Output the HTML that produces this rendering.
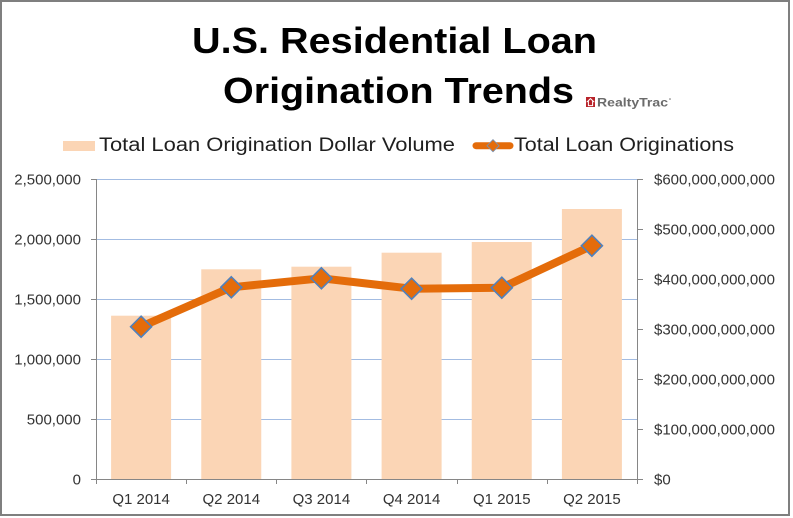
<!DOCTYPE html>
<html>
<head>
<meta charset="utf-8">
<style>
  html, body { margin: 0; padding: 0; background: #ffffff; }
  body { width: 793px; height: 518px; overflow: hidden; }
  svg { display: block; }
  text { font-family: "Liberation Sans", Arial, sans-serif; }
</style>
</head>
<body>
<svg width="793" height="518" viewBox="0 0 793 518" xmlns="http://www.w3.org/2000/svg">
  <rect x="0" y="0" width="793" height="518" fill="#ffffff"/>
  <!-- outer border -->
  <rect x="1" y="1" width="788" height="514" fill="#ffffff" stroke="#7f7f7f" stroke-width="2"/>

  <!-- Title -->
  <text x="192" y="53" font-size="36" font-weight="bold" fill="#000" textLength="405" lengthAdjust="spacingAndGlyphs">U.S. Residential Loan</text>
  <text x="223" y="103" font-size="36" font-weight="bold" fill="#000" textLength="351" lengthAdjust="spacingAndGlyphs">Origination Trends</text>

  <!-- RealtyTrac logo -->
  <rect x="586" y="97" width="9" height="10" fill="#b8232a"/>
  <path d="M590.5 98.6 L593.6 101.6 L592.6 101.6 L592.6 105.6 L588.4 105.6 L588.4 101.6 L587.4 101.6 Z" fill="none" stroke="#ffffff" stroke-width="1"/>
  <text x="597" y="106.5" font-size="12" font-weight="bold" fill="#6b6b6b" textLength="71" lengthAdjust="spacingAndGlyphs">RealtyTrac</text>
  <circle cx="670" cy="99" r="0.8" fill="#6b6b6b"/>

  <!-- Legend -->
  <rect x="63" y="141" width="32" height="10" fill="#fbd5b5"/>
  <text x="99" y="151" font-size="19" fill="#1f1f1f" textLength="356" lengthAdjust="spacingAndGlyphs">Total Loan Origination Dollar Volume</text>
  <line x1="476" y1="145.7" x2="510" y2="145.7" stroke="#e46c0a" stroke-width="7" stroke-linecap="round"/>
  <path d="M493 139.7 L499 145.7 L493 151.7 L487 145.7 Z" fill="#e46c0a" stroke="#7f8fa8" stroke-width="1"/>
  <text x="514" y="151" font-size="19" fill="#1f1f1f" textLength="220" lengthAdjust="spacingAndGlyphs">Total Loan Originations</text>

  <!-- Gridlines -->
  <g stroke="#a3bce2" stroke-width="1">
    <line x1="96" y1="179.5" x2="637" y2="179.5"/>
    <line x1="96" y1="239.5" x2="637" y2="239.5"/>
    <line x1="96" y1="299.5" x2="637" y2="299.5"/>
    <line x1="96" y1="359.5" x2="637" y2="359.5"/>
    <line x1="96" y1="419.5" x2="637" y2="419.5"/>
  </g>

  <!-- Bars -->
  <g fill="#fbd5b5">
    <rect x="111.1" y="315.7" width="60" height="163.3"/>
    <rect x="201.25" y="269.3" width="60" height="209.7"/>
    <rect x="291.4" y="266.7" width="60" height="212.3"/>
    <rect x="381.6" y="252.7" width="60" height="226.3"/>
    <rect x="471.75" y="242" width="60" height="237"/>
    <rect x="561.9" y="209" width="60" height="270"/>
  </g>

  <!-- Axes -->
  <g stroke="#868686" stroke-width="1">
    <line x1="96.5" y1="179" x2="96.5" y2="479"/>
    <line x1="637.5" y1="179" x2="637.5" y2="479"/>
    <line x1="91" y1="479.5" x2="643" y2="479.5"/>
    <!-- left ticks -->
    <line x1="91" y1="179.5" x2="96" y2="179.5"/>
    <line x1="91" y1="239.5" x2="96" y2="239.5"/>
    <line x1="91" y1="299.5" x2="96" y2="299.5"/>
    <line x1="91" y1="359.5" x2="96" y2="359.5"/>
    <line x1="91" y1="419.5" x2="96" y2="419.5"/>
    <!-- right ticks -->
    <line x1="637" y1="179.5" x2="643" y2="179.5"/>
    <line x1="637" y1="229.5" x2="643" y2="229.5"/>
    <line x1="637" y1="279.5" x2="643" y2="279.5"/>
    <line x1="637" y1="329.5" x2="643" y2="329.5"/>
    <line x1="637" y1="379.5" x2="643" y2="379.5"/>
    <line x1="637" y1="429.5" x2="643" y2="429.5"/>
    <!-- x ticks -->
    <line x1="96.5" y1="479" x2="96.5" y2="484"/>
    <line x1="186.5" y1="479" x2="186.5" y2="484"/>
    <line x1="276.5" y1="479" x2="276.5" y2="484"/>
    <line x1="366.5" y1="479" x2="366.5" y2="484"/>
    <line x1="457.5" y1="479" x2="457.5" y2="484"/>
    <line x1="547.5" y1="479" x2="547.5" y2="484"/>
    <line x1="637.5" y1="479" x2="637.5" y2="484"/>
  </g>

  <!-- Line series -->
  <polyline points="141.1,326.7 231.3,287.3 321.4,278.3 411.6,288.7 501.8,287.7 591.9,245.7"
            fill="none" stroke="#e46c0a" stroke-width="8" stroke-linejoin="round"/>
  <g fill="#e46c0a" stroke="#4f81bd" stroke-width="1.6">
    <path d="M141.1 316.2 L151.6 326.7 L141.1 337.2 L130.6 326.7 Z"/>
    <path d="M231.3 276.8 L241.8 287.3 L231.3 297.8 L220.8 287.3 Z"/>
    <path d="M321.4 267.8 L331.9 278.3 L321.4 288.8 L310.9 278.3 Z"/>
    <path d="M411.6 278.2 L422.1 288.7 L411.6 299.2 L401.1 288.7 Z"/>
    <path d="M501.8 277.2 L512.3 287.7 L501.8 298.2 L491.3 287.7 Z"/>
    <path d="M591.9 235.2 L602.4 245.7 L591.9 256.2 L581.4 245.7 Z"/>
  </g>

  <!-- Left axis labels -->
  <g font-size="15" fill="#333333" text-anchor="end">
    <text x="81" y="184.5">2,500,000</text>
    <text x="81" y="244.5">2,000,000</text>
    <text x="81" y="304.5">1,500,000</text>
    <text x="81" y="364.5">1,000,000</text>
    <text x="81" y="424.5">500,000</text>
    <text x="81" y="484.5">0</text>
  </g>

  <!-- Right axis labels -->
  <g font-size="15" fill="#333333">
    <text x="654" y="184.5">$600,000,000,000</text>
    <text x="654" y="234.5">$500,000,000,000</text>
    <text x="654" y="284.5">$400,000,000,000</text>
    <text x="654" y="334.5">$300,000,000,000</text>
    <text x="654" y="384.5">$200,000,000,000</text>
    <text x="654" y="434.5">$100,000,000,000</text>
    <text x="654" y="484.5">$0</text>
  </g>

  <!-- X axis labels -->
  <g font-size="15" fill="#333333" text-anchor="middle">
    <text x="141.1" y="504">Q1 2014</text>
    <text x="231.3" y="504">Q2 2014</text>
    <text x="321.4" y="504">Q3 2014</text>
    <text x="411.6" y="504">Q4 2014</text>
    <text x="501.8" y="504">Q1 2015</text>
    <text x="591.9" y="504">Q2 2015</text>
  </g>
</svg>
</body>
</html>
